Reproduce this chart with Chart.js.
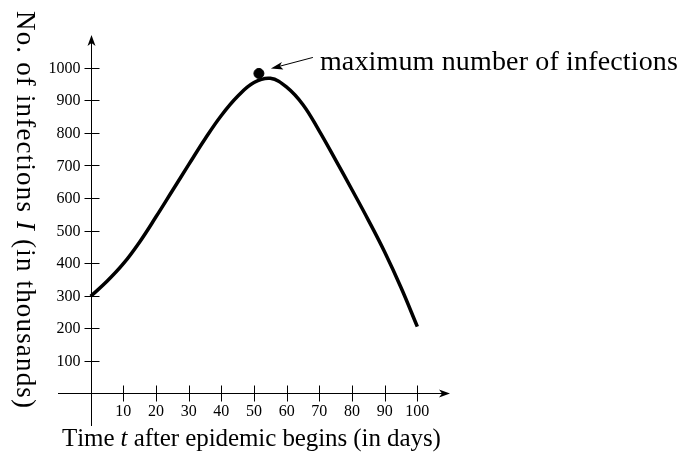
<!DOCTYPE html>
<html>
<head>
<meta charset="utf-8">
<script src="https://cdn.jsdelivr.net/npm/chart.js@4.4.1/dist/chart.umd.min.js"></script>
<style>
  html, body { margin: 0; padding: 0; background: #fff; }
  #wrap { width: 682px; height: 452px; position: relative; }
</style>
</head>
<body>
<div id="wrap"><canvas id="chart"></canvas></div>
<script>
// values (days, thousands of infections)
const days = [0, 5, 10, 15, 20, 25, 30, 35, 40, 45, 50, 55, 60, 65, 70, 75, 80, 85, 90, 95, 100];
const infections = [298, 344, 398, 465, 542, 622, 702, 781, 853, 912, 954, 967, 940, 886, 805, 716, 625, 532, 434, 325, 205];
const maxDay = [51.5];
const maxValue = [982];
const xTicks = [10, 20, 30, 40, 50, 60, 70, 80, 90, 100];
const yTicks = [0, 100, 200, 300, 400, 500, 600, 700, 800, 900, 1000];

const SERIF = '"Liberation Serif", "Times New Roman", serif';

// draws [text, italic] runs char by char, spreading the letters to fill width
function drawRuns(ctx, runs, x, y, size, width) {
    const font = it => (it ? 'italic ' : '') + size + 'px ' + SERIF;
    let natural = 0, count = 0;
    runs.forEach(([t, it]) => {
        ctx.font = font(it);
        natural += ctx.measureText(t).width;
        count += t.length;
    });
    const extra = width ? (width - natural) / (count - 1) : 0;
    let cx = x;
    runs.forEach(([t, it]) => {
        ctx.font = font(it);
        for (const ch of t) {
            ctx.fillText(ch, cx, y);
            cx += ctx.measureText(ch).width + extra;
        }
    });
}

const axesPlugin = {
    id: 'axes',
    beforeDatasetsDraw(chart) {
        const { ctx, chartArea: a, scales: { x, y } } = chart;
        const x0 = Math.round(x.getPixelForValue(0)) + 0.5;
        const y0 = Math.round(y.getPixelForValue(0)) + 0.5;
        ctx.save();
        ctx.strokeStyle = '#000';
        ctx.fillStyle = '#000';
        ctx.lineWidth = 1;

        // axis lines
        ctx.beginPath();
        ctx.moveTo(a.left, y0); ctx.lineTo(a.right - 6, y0);
        ctx.moveTo(x0, a.bottom); ctx.lineTo(x0, a.top + 6);
        ctx.stroke();

        // arrow heads
        ctx.beginPath();
        ctx.moveTo(a.right, y0);
        ctx.lineTo(a.right - 11, y0 - 4);
        ctx.lineTo(a.right - 8, y0);
        ctx.lineTo(a.right - 11, y0 + 4);
        ctx.closePath();
        ctx.moveTo(x0, a.top);
        ctx.lineTo(x0 - 4, a.top + 11);
        ctx.lineTo(x0, a.top + 8);
        ctx.lineTo(x0 + 4, a.top + 11);
        ctx.closePath();
        ctx.fill();

        // tick marks crossing the axes
        ctx.beginPath();
        xTicks.forEach(v => {
            const px = Math.round(x.getPixelForValue(v)) + 0.5;
            ctx.moveTo(px, y0 - 8); ctx.lineTo(px, y0 + 8);
        });
        yTicks.forEach(v => {
            const py = Math.round(y.getPixelForValue(v)) + 0.5;
            ctx.moveTo(x0 - 7, py); ctx.lineTo(x0 + 8, py);
        });
        ctx.stroke();

        // tick labels
        ctx.font = '16px ' + SERIF;
        ctx.textAlign = 'center';
        ctx.textBaseline = 'alphabetic';
        xTicks.forEach(v => ctx.fillText(String(v), x.getPixelForValue(v), y0 + 22));
        ctx.textAlign = 'right';
        ctx.textBaseline = 'middle';
        yTicks.filter(v => v > 0).forEach(v => ctx.fillText(String(v), x0 - 11, y.getPixelForValue(v) + 1));
        ctx.restore();
    },
    afterDraw(chart) {
        const { ctx, chartArea: a, scales: { x, y } } = chart;
        ctx.save();
        ctx.fillStyle = '#000';
        ctx.strokeStyle = '#000';
        ctx.textAlign = 'left';
        ctx.textBaseline = 'alphabetic';

        // x axis title
        drawRuns(ctx, [['Time ', false], ['t', true], [' after epidemic begins (in days)', false]],
            a.left + 4, a.bottom + 20, 25, 378);

        // y axis title, read top to bottom
        ctx.save();
        ctx.translate(17, 11);
        ctx.rotate(Math.PI / 2);
        drawRuns(ctx, [['No. of infections ', false], ['I', true], [' (in thousands)', false]],
            0, 0, 27, 397);
        ctx.restore();

        // annotation for the maximum
        const mx = x.getPixelForValue(maxDay[0]);
        const my = y.getPixelForValue(maxValue[0]);
        ctx.lineWidth = 1;
        ctx.beginPath();
        ctx.moveTo(mx + 54, my - 16);
        ctx.lineTo(mx + 20, my - 7);
        ctx.stroke();
        ctx.beginPath();
        ctx.moveTo(mx + 12, my - 5);
        ctx.lineTo(mx + 23, my - 11.5);
        ctx.lineTo(mx + 21, my - 7.5);
        ctx.lineTo(mx + 24.5, my - 4);
        ctx.closePath();
        ctx.fill();
        drawRuns(ctx, [['maximum number of infections', false]], mx + 61, my - 3, 28, 358);
        ctx.restore();
    }
};

new Chart(document.getElementById('chart'), {
    type: 'line',
    data: {
        datasets: [
            {
                data: days.map((d, i) => ({ x: d, y: infections[i] })),
                borderColor: '#000',
                borderWidth: 3.5,
                pointRadius: 0,
                tension: 0.4,
                fill: false
            },
            {
                type: 'scatter',
                data: maxDay.map((d, i) => ({ x: d, y: maxValue[i] })),
                backgroundColor: '#000',
                borderColor: '#000',
                pointRadius: 5
            }
        ]
    },
    options: {
        responsive: true,
        maintainAspectRatio: false,
        animation: false,
        layout: { padding: { left: 58, right: 232, top: 35, bottom: 26 } },
        plugins: { legend: { display: false }, tooltip: { enabled: false } },
        scales: {
            x: { type: 'linear', min: -10, max: 110, display: false },
            y: { type: 'linear', min: -100, max: 1100, display: false }
        }
    },
    plugins: [axesPlugin]
});
</script>
</body>
</html>
